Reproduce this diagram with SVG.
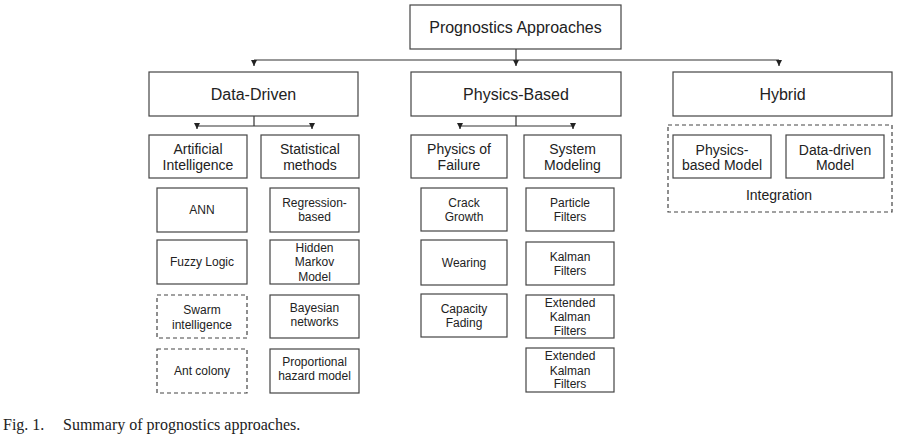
<svg xmlns="http://www.w3.org/2000/svg" width="906" height="442" viewBox="0 0 906 442">
<defs>
<marker id="arr" markerWidth="8" markerHeight="8" refX="6" refY="4" orient="auto" markerUnits="userSpaceOnUse">
<path d="M0,1 L6,4 L0,7 Z" fill="#222"/>
</marker>
<style>
rect{fill:#fff;stroke:#444;stroke-width:1.2}
.d{stroke-dasharray:4 3}
text{font-family:"Liberation Sans",Arial,sans-serif;fill:#222;text-anchor:middle}
.l1{font-size:16px}
.l2{font-size:14px}
.l3{font-size:12px}
.cap{font-family:"Liberation Serif","Times New Roman",serif;font-size:16px;text-anchor:start}
.c{fill:none;stroke:#333;stroke-width:1.2}
</style>
</defs>
<rect width="906" height="442" style="fill:#fff;stroke:none"/>
<g id="connectors">
<path class="c" d="M516,49 V66" marker-end="url(#arr)"/>
<path class="c" d="M254,60 H779"/>
<path class="c" d="M254,60 V66" marker-end="url(#arr)"/>
<path class="c" d="M779,60 V66" marker-end="url(#arr)"/>
<path class="c" d="M254,116 V126 M197,126 H312"/>
<path class="c" d="M197,126 V129" marker-end="url(#arr)"/>
<path class="c" d="M312,126 V129" marker-end="url(#arr)"/>
<path class="c" d="M516,116 V126 M460,126 H573"/>
<path class="c" d="M460,126 V129" marker-end="url(#arr)"/>
<path class="c" d="M573,126 V129" marker-end="url(#arr)"/>
</g>
<g id="root"><rect x="410" y="5" width="211" height="44"/><text class="l1" x="515.5" y="33">Prognostics Approaches</text></g>
<g id="datadriven"><rect x="149" y="72" width="209" height="44"/><text class="l1" x="253.5" y="100">Data-Driven</text></g>
<g id="physicsbased"><rect x="411" y="72" width="210" height="44"/><text class="l1" x="516" y="100">Physics-Based</text></g>
<g id="hybrid"><rect x="673" y="72" width="219" height="44"/><text class="l1" x="782.5" y="100">Hybrid</text></g>

<g id="ai"><rect x="149" y="135" width="98" height="43"/><text class="l2" x="198" y="154">Artificial</text><text class="l2" x="198" y="170">Intelligence</text></g>
<g id="stat"><rect x="261" y="135" width="98" height="43"/><text class="l2" x="310" y="154">Statistical</text><text class="l2" x="310" y="170">methods</text></g>
<g id="pof"><rect x="411" y="135" width="96" height="43"/><text class="l2" x="459" y="154">Physics of</text><text class="l2" x="459" y="170">Failure</text></g>
<g id="sysmod"><rect x="524" y="135" width="97" height="43"/><text class="l2" x="572.5" y="154">System</text><text class="l2" x="572.5" y="170">Modeling</text></g>

<g id="ann"><rect x="157" y="188" width="90" height="44"/><text class="l3" x="202" y="214">ANN</text></g>
<g id="fuzzy"><rect x="157" y="240" width="90" height="44"/><text class="l3" x="202" y="266">Fuzzy Logic</text></g>
<g id="swarm"><rect class="d" x="157" y="295" width="90" height="43"/><text class="l3" x="202" y="314">Swarm</text><text class="l3" x="202" y="329">intelligence</text></g>
<g id="ant"><rect class="d" x="157" y="349" width="90" height="44"/><text class="l3" x="202" y="375">Ant colony</text></g>

<g id="regression"><rect x="270" y="188" width="89" height="44"/><text class="l3" x="314.5" y="207">Regression-</text><text class="l3" x="314.5" y="221">based</text></g>
<g id="hmm"><rect x="270" y="240" width="89" height="44"/><text class="l3" x="314.5" y="252">Hidden</text><text class="l3" x="314.5" y="266">Markov</text><text class="l3" x="314.5" y="281">Model</text></g>
<g id="bayes"><rect x="270" y="295" width="89" height="43"/><text class="l3" x="314.5" y="312">Bayesian</text><text class="l3" x="314.5" y="326">networks</text></g>
<g id="phm"><rect x="270" y="349" width="89" height="44"/><text class="l3" x="314.5" y="366">Proportional</text><text class="l3" x="314.5" y="380">hazard model</text></g>

<g id="crack"><rect x="421" y="188" width="86" height="43"/><text class="l3" x="464" y="207">Crack</text><text class="l3" x="464" y="221">Growth</text></g>
<g id="wearing"><rect x="421" y="240" width="86" height="45"/><text class="l3" x="464" y="267">Wearing</text></g>
<g id="capacity"><rect x="421" y="294" width="86" height="43"/><text class="l3" x="464" y="313">Capacity</text><text class="l3" x="464" y="327">Fading</text></g>

<g id="particle"><rect x="526" y="188" width="88" height="43"/><text class="l3" x="570" y="207">Particle</text><text class="l3" x="570" y="221">Filters</text></g>
<g id="kalman"><rect x="526" y="242" width="88" height="43"/><text class="l3" x="570" y="261">Kalman</text><text class="l3" x="570" y="275">Filters</text></g>
<g id="ekf1"><rect x="526" y="295" width="88" height="43"/><text class="l3" x="570" y="307">Extended</text><text class="l3" x="570" y="321">Kalman</text><text class="l3" x="570" y="335">Filters</text></g>
<g id="ekf2"><rect x="526" y="348" width="88" height="44"/><text class="l3" x="570" y="360">Extended</text><text class="l3" x="570" y="375">Kalman</text><text class="l3" x="570" y="388">Filters</text></g>

<g id="integration"><rect class="d" x="668" y="125" width="224" height="87"/><text class="l2" x="779" y="200">Integration</text></g>
<g id="pbmodel"><rect x="673" y="135" width="98" height="43"/><text class="l2" x="722" y="155">Physics-</text><text class="l2" x="722" y="170">based Model</text></g>
<g id="ddmodel"><rect x="786" y="135" width="98" height="43"/><text class="l2" x="835" y="155">Data-driven</text><text class="l2" x="835" y="170">Model</text></g>

<text class="cap" x="3" y="430">Fig. 1.</text>
<text class="cap" x="63" y="430">Summary of prognostics approaches.</text>
</svg>
